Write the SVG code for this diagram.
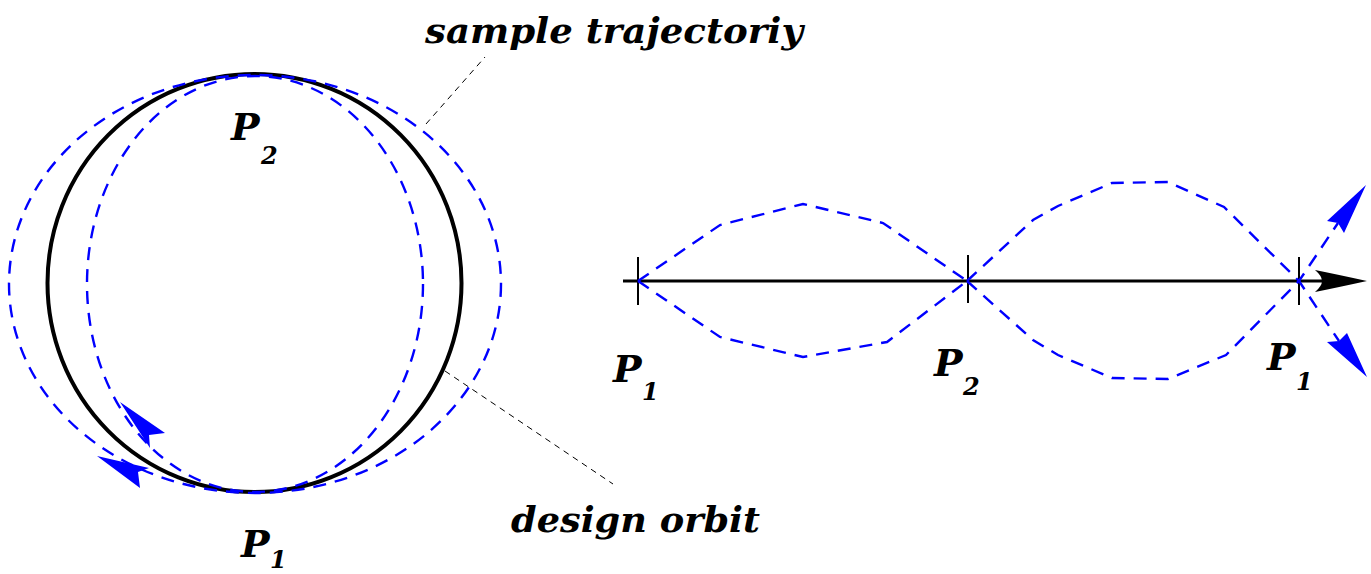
<svg xmlns="http://www.w3.org/2000/svg" width="1371" height="574" viewBox="0 0 1371 574">
  <style>
    .lbl { font-family: "DejaVu Serif", "Liberation Serif", serif; font-weight: bold; font-style: italic; fill: #000; }
    .big { font-size: 36px; }
    .p { font-size: 38px; }
    .sub { font-size: 24px; }
    .blue { fill: none; stroke: #0000ff; stroke-width: 2.4; stroke-dasharray: 13 9; }
    .lead { fill: none; stroke: #000; stroke-width: 1; stroke-dasharray: 6 5; }
    .bhead { fill: #0000ff; stroke: none; }
    .tick { stroke: #000; stroke-width: 2; }
  </style>

  <g id="circle-diagram">
    <ellipse id="design-orbit" cx="254.5" cy="283" rx="207" ry="209" fill="none" stroke="#000" stroke-width="4"/>
    <ellipse id="outer-trajectory" class="blue" cx="255" cy="284" rx="246" ry="209"/>
    <ellipse id="inner-trajectory" class="blue" cx="255" cy="284" rx="168" ry="208"/>
  </g>

  <g id="connectors">
    <path class="lead" d="M426 124 L485 57"/>
    <path class="lead" d="M445 371 L613 484"/>
    <path class="bhead" d="M120 402 L165 433 L149 435 L150 448 Z"/>
    <path class="bhead" d="M97 456 L149 468 L138 472 L140 488 Z"/>

    <line x1="623" y1="281" x2="1325" y2="281" stroke="#000" stroke-width="3"/>
    <path d="M1367 281 Q1335 274 1315 270 Q1322 276 1322 281 Q1322 286 1315 292 Q1335 288 1367 281 Z" fill="#000"/>
    <line class="tick" x1="638" y1="257" x2="638" y2="305"/>
    <line class="tick" x1="968" y1="255" x2="968" y2="303"/>
    <line class="tick" x1="1299" y1="257" x2="1299" y2="305"/>

    <polyline class="blue" points="638,281 720,225 803,204 883,223 967,281"/>
    <polyline class="blue" points="638,281 720,337 803,357 887,342 967,281"/>
    <polyline class="blue" points="967,281 1033,220 1058,206 1112,183 1168,182 1224,207 1299,281 1338,223"/>
    <polyline class="blue" points="967,281 1033,340 1058,355 1112,378 1168,379 1226,355 1299,281 1339,341"/>
    <path class="bhead" d="M1366 185 L1344 233 L1338 223 L1327 221 Z"/>
    <path class="bhead" d="M1367 377 L1327 342 L1339 341 L1347 333 Z"/>
  </g>

  <g id="label-sample">
    <text class="lbl big" x="425" y="43" textLength="378" lengthAdjust="spacingAndGlyphs">sample trajectoriy</text>
  </g>
  <g id="label-design">
    <text class="lbl big" x="511" y="532" textLength="249" lengthAdjust="spacingAndGlyphs">design orbit</text>
  </g>

  <g id="label-p2-circle">
    <text class="lbl p" x="231" y="140">P</text>
    <text class="lbl sub" x="261" y="164">2</text>
  </g>
  <g id="label-p1-circle">
    <text class="lbl p" x="241" y="557">P</text>
    <text class="lbl sub" x="270" y="568">1</text>
  </g>
  <g id="label-p1-left">
    <text class="lbl p" x="613" y="382">P</text>
    <text class="lbl sub" x="642" y="400">1</text>
  </g>
  <g id="label-p2-mid">
    <text class="lbl p" x="934" y="376">P</text>
    <text class="lbl sub" x="963" y="395">2</text>
  </g>
  <g id="label-p1-right">
    <text class="lbl p" x="1267" y="370">P</text>
    <text class="lbl sub" x="1296" y="390">1</text>
  </g>
</svg>
